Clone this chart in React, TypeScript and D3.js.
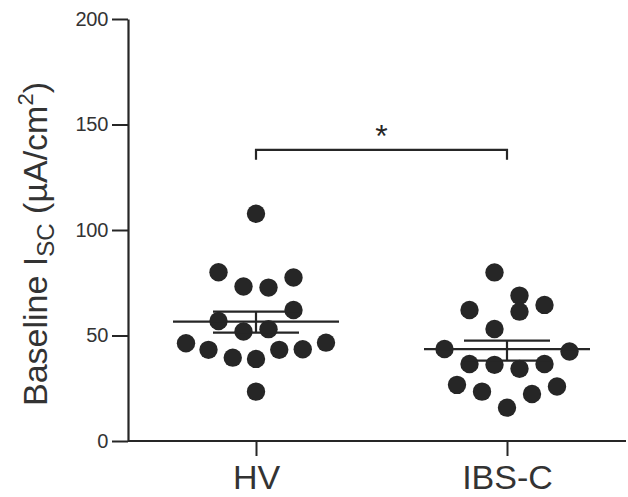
import React, { useEffect, useRef } from 'react';
import * as d3 from 'd3';

// groups on the x axis
const groups = ['HV', 'IBS-C'];

// individual values (µA/cm2)
const hvValues = [107.7, 80, 73.2, 72.7, 77.5, 62.1, 56.9, 51.9, 53, 46.3, 43.2, 39.5, 38.9, 43.2, 43.5, 46.6, 23.4];
const ibsValues = [79.9, 62.1, 68.9, 61.3, 64.5, 53.1, 43.6, 42.4, 36.5, 36.1, 34.2, 36.5, 26.6, 23.4, 22.3, 25.8, 15.8];

// scatter slot of each dot (in dot widths from the group centre)
const hvSlots = [0, -1.5, -0.5, 0.5, 1.5, 1.5, -1.5, -0.5, 0.5, -2.8, -1.9, -0.93, 0, 0.93, 1.87, 2.8, 0];
const ibsSlots = [-0.5, -1.5, 0.5, 0.5, 1.5, -0.5, -2.5, 2.5, -1.5, -0.5, 0.5, 1.5, -2, -1, 1, 2, 0];

// mean and SEM for each group
const means = [56.6, 43.5];
const semUpper = [61.3, 47.6];
const semLower = [51.4, 38.1];

const yTicks = [0, 50, 100, 150, 200];

const App = () => {
  const ref = useRef<SVGSVGElement>(null);

  useEffect(() => {
    const svg = d3.select(ref.current);
    svg.selectAll('*').remove();

    const ink = '#262626';
    const textInk = '#333';
    const font = 'Arial, "Liberation Sans", sans-serif';

    const y = d3.scaleLinear().domain([0, 200]).range([441, 19]);
    const x = d3.scalePoint<string>().domain(groups).range([256, 507]);
    const slot = d3.scaleLinear().domain([0, 1]).range([0, 25]);

    // y axis
    const yAxis = svg.append('g')
      .attr('transform', 'translate(128,0)')
      .call(d3.axisLeft(y).tickValues(yTicks).tickSize(16).tickPadding(4).tickSizeOuter(0));
    yAxis.select('.domain').attr('stroke', ink).attr('stroke-width', 2.2);
    yAxis.selectAll('.tick line').attr('stroke', ink).attr('stroke-width', 2);
    yAxis.selectAll('.tick text')
      .attr('fill', textInk)
      .attr('font-family', font)
      .attr('font-size', 20)
      .attr('letter-spacing', -0.3);

    // x axis
    const xAxis = svg.append('g')
      .attr('transform', 'translate(0,441)')
      .call(d3.axisBottom(x).tickSize(15).tickPadding(9).tickSizeOuter(0));
    xAxis.select('.domain').attr('d', 'M128,0H626').attr('stroke', ink).attr('stroke-width', 2.2);
    xAxis.selectAll('.tick line').attr('stroke', ink).attr('stroke-width', 2);
    xAxis.selectAll('.tick text')
      .attr('fill', textInk)
      .attr('font-family', font)
      .attr('font-size', 34);

    // y label
    const label = svg.append('text')
      .attr('transform', 'translate(47,244) rotate(-90)')
      .attr('text-anchor', 'middle')
      .attr('font-family', font)
      .attr('font-size', 34)
      .attr('fill', textInk);
    label.append('tspan').text('Baseline I');
    label.append('tspan').attr('font-size', 24).attr('dy', 7).text('SC');
    label.append('tspan').attr('dy', -7).text(' (µA/cm');
    label.append('tspan').attr('font-size', 22).attr('dy', -14).text('2');
    label.append('tspan').attr('dy', 14).text(')');

    // dots
    const series = [
      { g: groups[0], vals: hvValues, slots: hvSlots },
      { g: groups[1], vals: ibsValues, slots: ibsSlots },
    ];
    series.forEach(s => {
      svg.append('g')
        .selectAll('circle')
        .data(s.vals)
        .enter()
        .append('circle')
        .attr('cx', (d, i) => x(s.g)! + slot(s.slots[i]))
        .attr('cy', d => y(d))
        .attr('r', 9.2)
        .attr('fill', ink);
    });

    // mean and SEM bars
    const stats = svg.append('g').attr('stroke', ink).attr('stroke-width', 2.2).attr('fill', 'none');
    groups.forEach((g, i) => {
      const cx = x(g)!;
      stats.append('line').attr('x1', cx - 83).attr('x2', cx + 83).attr('y1', y(means[i])).attr('y2', y(means[i]));
      stats.append('line').attr('x1', cx - 43).attr('x2', cx + 43).attr('y1', y(semUpper[i])).attr('y2', y(semUpper[i]));
      stats.append('line').attr('x1', cx - 43).attr('x2', cx + 43).attr('y1', y(semLower[i])).attr('y2', y(semLower[i]));
      stats.append('line').attr('x1', cx).attr('x2', cx).attr('y1', y(semUpper[i])).attr('y2', y(semLower[i]));
    });

    // significance bracket
    const x0 = x(groups[0])!;
    const x1 = x(groups[1])!;
    const by = y(138);
    svg.append('path')
      .attr('d', `M${x0},${by + 10}V${by}H${x1}V${by + 10}`)
      .attr('fill', 'none')
      .attr('stroke', ink)
      .attr('stroke-width', 2.2);
    svg.append('text')
      .attr('x', (x0 + x1) / 2)
      .attr('y', by - 3)
      .attr('text-anchor', 'middle')
      .attr('font-family', font)
      .attr('font-size', 32)
      .attr('fill', ink)
      .text('*');
  }, []);

  return (
    <svg
      ref={ref}
      width={628}
      height={497}
      style={{ position: 'absolute', left: 0, top: 0, background: '#fff' }}
    />
  );
};

export default App;
